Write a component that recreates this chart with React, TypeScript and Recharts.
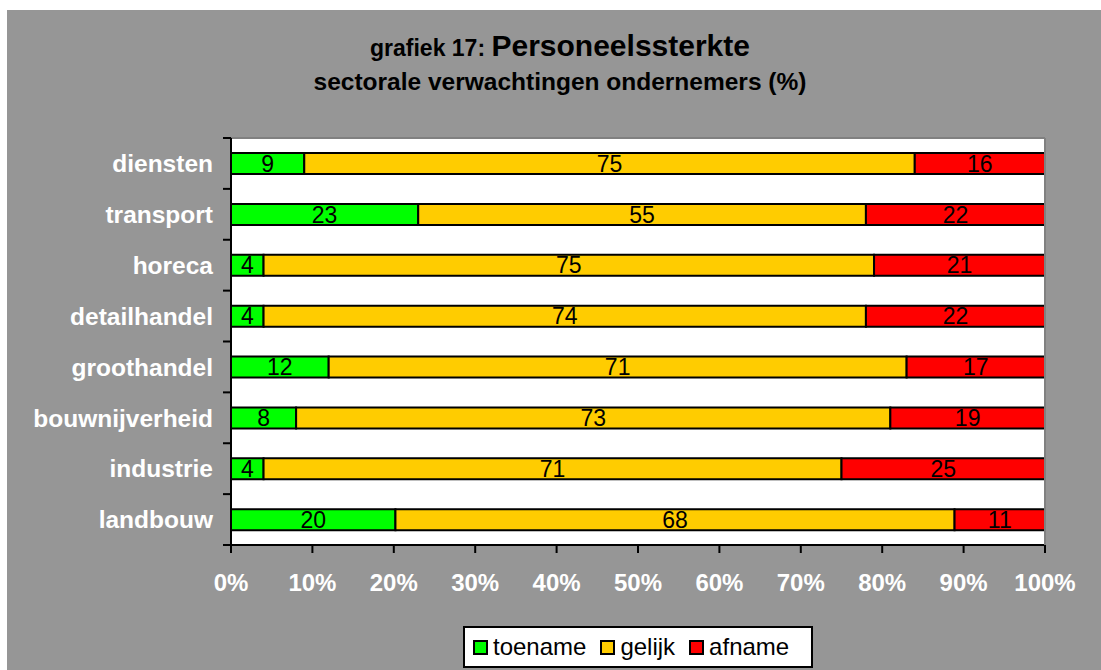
import { BarChart, Bar, XAxis, YAxis, CartesianGrid, LabelList } from 'recharts'

const sectors = [
  'diensten',
  'transport',
  'horeca',
  'detailhandel',
  'groothandel',
  'bouwnijverheid',
  'industrie',
  'landbouw',
]
const toename = [9, 23, 4, 4, 12, 8, 4, 20]
const gelijk = [75, 55, 75, 74, 71, 73, 71, 68]
const afname = [16, 22, 21, 22, 17, 19, 25, 11]

const series = [
  { key: 'toename', color: '#00FF00' },
  { key: 'gelijk', color: '#FFCC00' },
  { key: 'afname', color: '#FF0000' },
]

const xTicks = [0, 0.1, 0.2, 0.3, 0.4, 0.5, 0.6, 0.7, 0.8, 0.9, 1]

const FONT = '"Liberation Sans", Arial, Helvetica, sans-serif'
const LABEL_GAP = 18

const data = sectors.map((sector, i) => ({
  sector,
  toename: toename[i],
  gelijk: gelijk[i],
  afname: afname[i],
}))

const pct = (v: number) => `${Math.round(v * 100)}%`

// category label plus Excel-style tick marks between the bands
const SectorTick = (props: any) => {
  const { x, y, payload, index, visibleTicksCount } = props
  const half = payload?.offset ?? 0
  const ax = x + LABEL_GAP
  return (
    <g>
      <text
        x={x}
        y={y}
        dy="0.355em"
        textAnchor="end"
        fill="#FFFFFF"
        fontSize={24.5}
        fontWeight="bold"
        fontFamily={FONT}
      >
        {payload.value}
      </text>
      <line x1={ax - 8} x2={ax} y1={y - half} y2={y - half} stroke="#000" strokeWidth={2} />
      {index === visibleTicksCount - 1 && (
        <line x1={ax - 8} x2={ax} y1={y + half} y2={y + half} stroke="#000" strokeWidth={2} />
      )}
    </g>
  )
}

export default function App() {
  return (
    <div style={{ position: 'absolute', left: 0, top: 0, width: 1101, height: 670, fontFamily: FONT }}>
      <div style={{ position: 'absolute', left: 7, top: 10, width: 1094, height: 660, background: '#969696' }} />
      <svg width={1101} height={120} style={{ position: 'absolute', left: 0, top: 0 }}>
        <text x={560} y={56} textAnchor="middle" fontFamily={FONT} fontWeight="bold" fill="#000">
          <tspan fontSize={23}>grafiek 17: </tspan>
          <tspan fontSize={30}>Personeelssterkte</tspan>
        </text>
        <text x={560} y={90} textAnchor="middle" fontFamily={FONT} fontWeight="bold" fontSize={24.5} fill="#000">
          sectorale verwachtingen ondernemers (%)
        </text>
      </svg>
      <div style={{ position: 'absolute', left: 7, top: 10 }}>
        <BarChart
          width={1094}
          height={660}
          data={data}
          layout="vertical"
          stackOffset="expand"
          barSize={21}
          margin={{ top: 127, right: 55, bottom: 0, left: 0 }}
        >
          <CartesianGrid fill="#FFFFFF" horizontal={false} vertical={false} />
          <XAxis
            type="number"
            domain={[0, 1]}
            ticks={xTicks}
            tickFormatter={pct}
            height={125}
            tickSize={8}
            tickMargin={21}
            axisLine={{ stroke: '#000', strokeWidth: 2 }}
            tickLine={{ stroke: '#000', strokeWidth: 2 }}
            tick={{ fill: '#FFFFFF', fontSize: 24, fontWeight: 'bold', fontFamily: FONT }}
          />
          <XAxis
            xAxisId="top"
            orientation="top"
            type="number"
            domain={[0, 1]}
            height={1}
            tick={false}
            tickLine={false}
            axisLine={{ stroke: '#808080', strokeWidth: 2 }}
          />
          <YAxis
            type="category"
            dataKey="sector"
            width={224}
            tickSize={0}
            tickMargin={LABEL_GAP}
            axisLine={{ stroke: '#000', strokeWidth: 2 }}
            tickLine={false}
            tick={SectorTick}
          />
          <YAxis
            yAxisId="right"
            orientation="right"
            type="number"
            domain={[0, 1]}
            width={1}
            tick={false}
            tickLine={false}
            axisLine={{ stroke: '#808080', strokeWidth: 2 }}
          />
          {series.map((s) => (
            <Bar
              key={s.key}
              dataKey={s.key}
              stackId="a"
              fill={s.color}
              stroke="#000"
              strokeWidth={2}
              isAnimationActive={false}
            >
              <LabelList
                dataKey={s.key}
                position="center"
                fill="#000"
                fontSize={23}
                fontFamily={FONT}
              />
            </Bar>
          ))}
        </BarChart>
      </div>
      <div
        style={{
          position: 'absolute',
          left: 463,
          top: 626,
          width: 346,
          height: 38,
          background: '#FFFFFF',
          border: '2px solid #000',
          display: 'flex',
          alignItems: 'center',
          fontSize: 24,
          color: '#000',
        }}
      >
        {series.map((s, i) => (
          <div key={s.key} style={{ display: 'flex', alignItems: 'center', marginLeft: i === 0 ? 8 : 14 }}>
            <span
              style={{
                display: 'inline-block',
                width: 11,
                height: 11,
                background: s.color,
                border: '2px solid #000',
                marginRight: 5,
              }}
            />
            <span>{s.key}</span>
          </div>
        ))}
      </div>
    </div>
  )
}
